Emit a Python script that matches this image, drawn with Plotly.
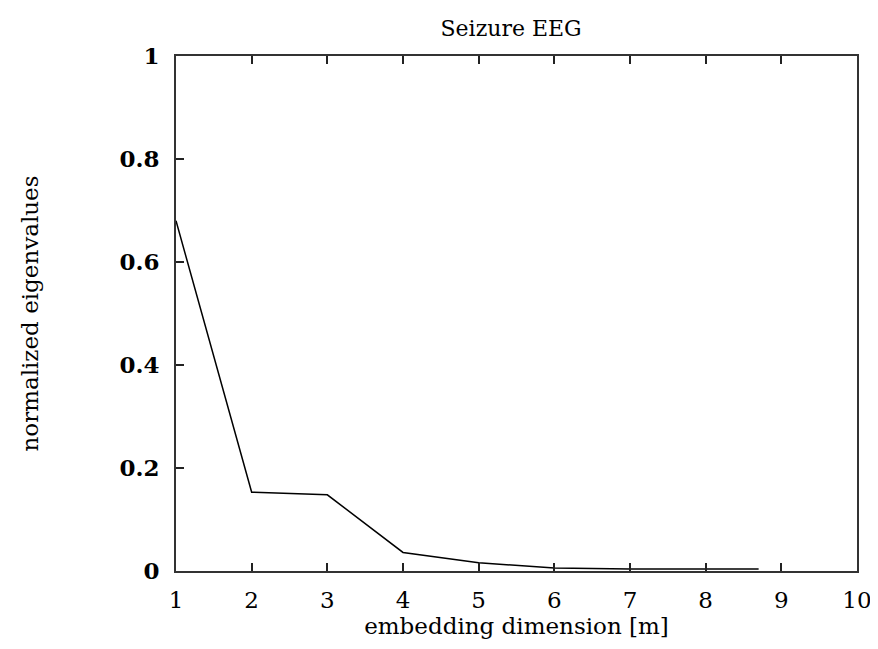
import plotly.graph_objects as go

# embedding dimension vs normalized eigenvalue
dims = [1, 2, 3, 4, 5, 6, 7, 8, 8.7]
eigvals = [0.68, 0.153, 0.148, 0.036, 0.016, 0.006, 0.004, 0.004, 0.004]

x_ticks = [1, 2, 3, 4, 5, 6, 7, 8, 9, 10]
y_ticks = [0, 0.2, 0.4, 0.6, 0.8, 1]
y_labels = ["0", "0.2", "0.4", "0.6", "0.8", "1"]

serif = "DejaVu Serif, Liberation Serif, serif"

fig = go.Figure()
fig.add_trace(go.Scatter(x=dims, y=eigvals, mode="lines",
                         line=dict(color="black", width=1.5), showlegend=False))

# page body has an 8px margin, so margins are shifted to compensate
fig.update_layout(
    width=878, height=649,
    paper_bgcolor="white", plot_bgcolor="white",
    margin=dict(l=168, r=29, t=48, b=86),
    title=dict(text="Seizure EEG", x=0.573, xanchor="center", y=0.969, yanchor="middle",
               font=dict(family=serif, size=22, color="black")),
    font=dict(family=serif, color="black"),
)
fig.update_xaxes(
    range=[1, 10], tickvals=x_ticks, ticks="inside", ticklen=8, tickwidth=2,
    tickcolor="#222", showline=True, linecolor="#333", linewidth=2, mirror="ticks",
    showgrid=False, zeroline=False, ticklabelstandoff=7,
    tickfont=dict(family=serif, size=23, color="black"),
    title=dict(text="embedding dimension [m]", font=dict(family=serif, size=23), standoff=0),
)
fig.update_yaxes(
    range=[0, 1], tickvals=y_ticks, ticktext=y_labels, ticks="inside", ticklen=8,
    tickwidth=2, tickcolor="#222", showline=True, linecolor="#333", linewidth=2,
    mirror=True, showgrid=False, zeroline=False, ticklabelstandoff=10,
    tickfont=dict(family=serif, size=23, color="black", weight="bold"),
    title=dict(text="normalized eigenvalues", font=dict(family=serif, size=23), standoff=74),
)

fig.write_html("out.html")
